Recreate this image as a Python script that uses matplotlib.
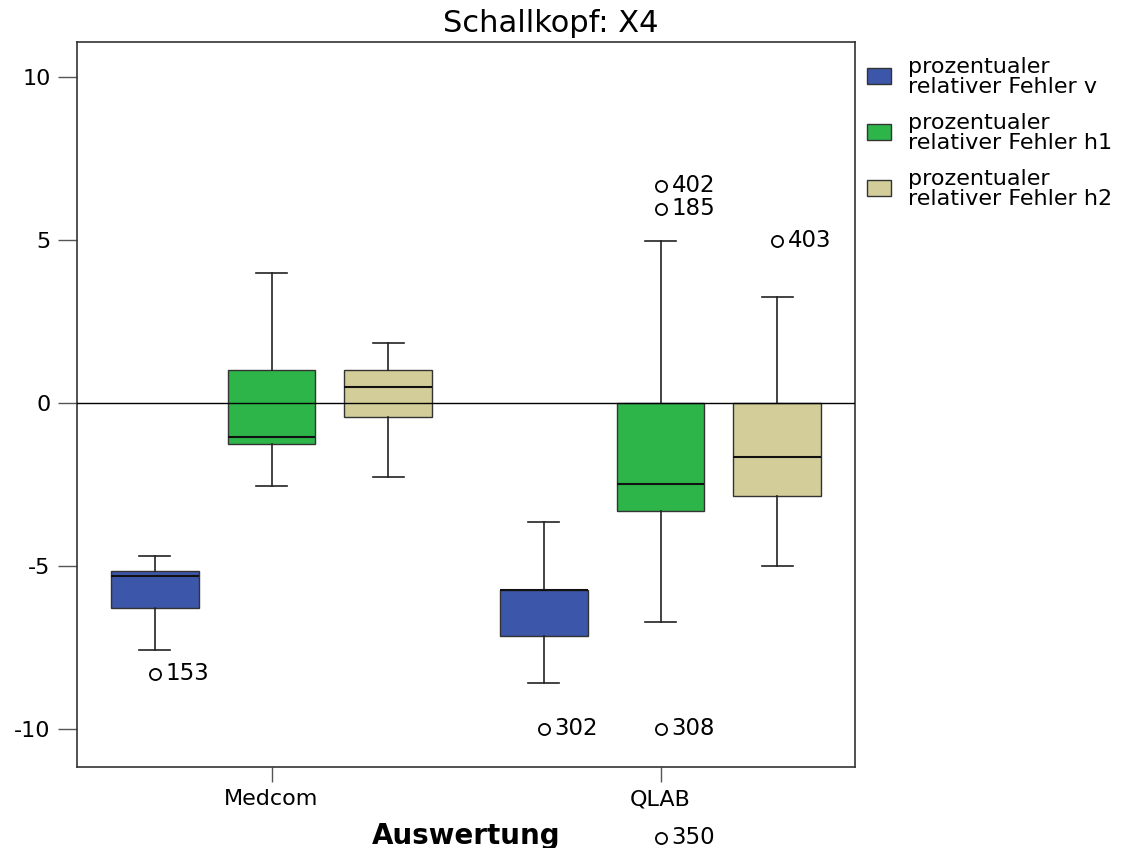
import numpy as np
import matplotlib.pyplot as plt
from matplotlib.patches import Rectangle

plt.rcParams['font.family'] = ['DejaVu Sans']

groups = ['Medcom', 'QLAB']
series = ['prozentualer\nrelativer Fehler v',
          'prozentualer\nrelativer Fehler h1',
          'prozentualer\nrelativer Fehler h2']
colors = ['#3C56AA', '#2DB54A', '#D3CE99']

# box statistics per group (v, h1, h2): whislo, q1, med, q3, whishi
whislo = [[-7.58, -2.55, -2.27], [-8.59, -6.72, -5.00]]
q1 = [[-6.29, -1.26, -0.43], [-7.15, -3.31, -2.85]]
med = [[-5.31, -1.04, 0.49], [-5.74, -2.48, -1.66]]
q3 = [[-5.15, 1.01, 1.01], [-5.74, 0.0, 0.0]]
whishi = [[-4.69, 3.99, 1.84], [-3.65, 4.97, 3.25]]

# outliers: (group, series, value, case number)
out_group = [0, 1, 1, 1, 1, 1, 1]
out_series = [0, 0, 1, 1, 1, 1, 2]
out_value = [-8.31, -10.0, 6.66, 5.95, -10.0, -13.34, 4.97]
out_label = ['153', '302', '402', '185', '308', '350', '403']

offsets = [-0.3, 0.0, 0.3]
width = 0.225

W, H = 1123, 848
fig = plt.figure(figsize=(W / 100, H / 100), dpi=100)
ax = fig.add_axes([77 / W, 1 - 767 / H, 778 / W, 725 / H])

for g in range(len(groups)):
    for s in range(len(series)):
        st = dict(whislo=whislo[g][s], q1=q1[g][s], med=med[g][s],
                  q3=q3[g][s], whishi=whishi[g][s], fliers=[])
        ax.bxp([st], positions=[g + offsets[s]], widths=width,
               patch_artist=True, showfliers=False, capwidths=width * 0.35,
               boxprops=dict(facecolor=colors[s], edgecolor='#333333', linewidth=1),
               medianprops=dict(color='#111111', linewidth=1.5),
               whiskerprops=dict(color='#222222', linewidth=1.2),
               capprops=dict(color='#222222', linewidth=1.2))

for g, s, v, lab in zip(out_group, out_series, out_value, out_label):
    x = g + offsets[s]
    ax.plot(x, v, marker='o', ms=8, mfc='white', mec='black', mew=1.3,
            linestyle='none', clip_on=False, zorder=5)
    ax.text(x + 0.028, v, lab, fontsize=16.5, va='center', ha='left',
            clip_on=False)

ax.axhline(0, color='black', linewidth=1, zorder=4)

ax.set_xlim(-0.5, 1.5)
ax.set_ylim(-11.17, 11.07)
ax.set_xticks(range(len(groups)))
ax.set_xticklabels(groups, fontsize=16)
ax.set_yticks([-10, -5, 0, 5, 10])
ax.set_yticklabels(['-10', '-5', '0', '5', '10'], fontsize=16)
ax.tick_params(axis='y', length=14, width=1, color='#555555', pad=5)
ax.tick_params(axis='x', length=11, width=1, color='#555555', pad=5)
for sp in ax.spines.values():
    sp.set_color('#333333')
    sp.set_linewidth(1.2)

fig.text(551 / W, 1 - 32 / H, 'Schallkopf: X4', fontsize=22, ha='center',
         va='baseline')
ax.set_xlabel('Auswertung', fontsize=20, fontweight='bold', labelpad=9)

# legend
for i, (c, lab) in enumerate(zip(colors, series)):
    yc = 76 + 56 * i
    fig.patches.append(Rectangle((867 / W, 1 - (yc + 8) / H), 24 / W, 16 / H,
                                 transform=fig.transFigure, facecolor=c,
                                 edgecolor='#333333', linewidth=1))
    fig.text(908 / W, 1 - (yc + 1) / H, lab, fontsize=16, ha='left',
             va='center', linespacing=0.95)

fig.savefig('out.png', dpi=100)
